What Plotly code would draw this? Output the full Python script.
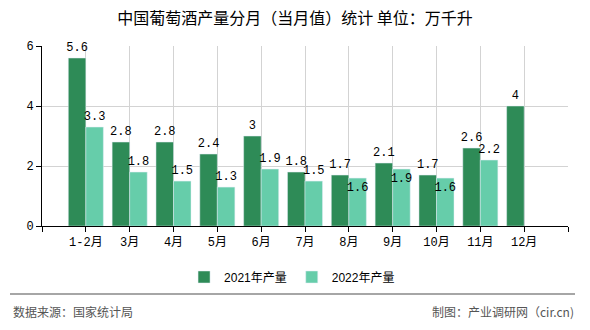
import plotly.graph_objects as go

categories = ["1-2月", "3月", "4月", "5月", "6月", "7月", "8月", "9月", "10月", "11月", "12月"]
values_2021 = [5.6, 2.8, 2.8, 2.4, 3, 1.8, 1.7, 2.1, 1.7, 2.6, 4]
values_2022 = [3.3, 1.8, 1.5, 1.3, 1.9, 1.5, 1.6, 1.9, 1.6, 2.2, None]
label_pos_2022 = ["outside", "outside", "outside", "outside", "outside", "outside",
                  "inside", "inside", "inside", "outside", "outside"]
y_ticks = [0, 2, 4, 6]

idx = list(range(len(categories)))
num_font = dict(family="Liberation Mono, DejaVu Sans Mono, monospace", size=12, color="#000")


def fmt(v):
    if v is None:
        return ""
    return ("%g" % v)


fig = go.Figure()
fig.add_trace(go.Bar(
    x=idx, y=values_2021, name="2021年产量", marker_color="#2E8B57",
    text=[fmt(v) for v in values_2021], textposition="outside", textangle=0,
    textfont=num_font, outsidetextfont=num_font, insidetextfont=num_font,
    cliponaxis=False, constraintext="none",
))
fig.add_trace(go.Bar(
    x=idx, y=values_2022, name="2022年产量", marker_color="#66CDAA",
    text=[fmt(v) for v in values_2022], textposition=label_pos_2022, textangle=0,
    insidetextanchor="end", textfont=num_font, outsidetextfont=num_font, insidetextfont=num_font,
    cliponaxis=False, constraintext="none",
))

tickvals = [-1] + idx + [len(categories)]
ticktext = [""] + categories + [""]

fig.update_layout(
    width=590, height=330,
    margin=dict(l=42, r=22, t=46, b=101),
    paper_bgcolor="white", plot_bgcolor="white",
    barmode="group", bargap=0.2, bargroupgap=0,
    title=dict(text="中国葡萄酒产量分月（当月值）统计 单位：万千升",
               x=0.5, xref="container", y=1 - 18 / 330, yref="container",
               xanchor="center", yanchor="middle",
               font=dict(family="Noto Sans CJK SC", size=16, color="#000")),
    showlegend=True,
    legend=dict(orientation="h", x=0.495, xref="container", y=1 - 277 / 330, yref="container",
                xanchor="center", yanchor="middle", itemwidth=30,
                font=dict(family="Liberation Sans, Noto Sans CJK SC", size=12, color="#000")),
    font=dict(family="Noto Sans CJK SC"),
)
fig.update_xaxes(
    range=[-1, len(categories)], tickmode="array", tickvals=tickvals, ticktext=ticktext,
    showgrid=True, gridcolor="#d3d3d3", gridwidth=1,
    showline=True, linecolor="#000", linewidth=1,
    ticks="outside", ticklen=5, tickcolor="#000",
    tickfont=dict(family="Liberation Mono, Noto Sans CJK SC", size=12, color="#000"),
    zeroline=False, fixedrange=True,
)
fig.update_yaxes(
    range=[0, 6], tickmode="array", tickvals=y_ticks,
    showgrid=True, gridcolor="#d3d3d3", gridwidth=1,
    showline=True, linecolor="#000", linewidth=1,
    ticks="outside", ticklen=5, tickcolor="#000",
    tickfont=dict(family="Liberation Mono, DejaVu Sans Mono", size=12, color="#000"),
    zeroline=False, fixedrange=True,
)

# footer separator line
fig.add_shape(type="line", xref="paper", yref="paper",
              x0=(10 - 42) / 526, x1=(575 - 42) / 526,
              y0=(229 - 298) / 183, y1=(229 - 298) / 183,
              line=dict(color="#888", width=1.5))
fig.add_annotation(text="数据来源：国家统计局", xref="paper", yref="paper",
                   x=(11 - 42) / 526, y=(229 - 316) / 183, xanchor="left", yanchor="middle",
                   showarrow=False, font=dict(family="Noto Sans CJK SC", size=12, color="#555"))
fig.add_annotation(text="制图：产业调研网（cir.cn)", xref="paper", yref="paper",
                   x=(576 - 42) / 526, y=(229 - 316) / 183, xanchor="right", yanchor="middle",
                   showarrow=False, font=dict(family="Noto Sans CJK SC", size=12, color="#555"))

fig.write_html("out.html", config={"displayModeBar": False})
